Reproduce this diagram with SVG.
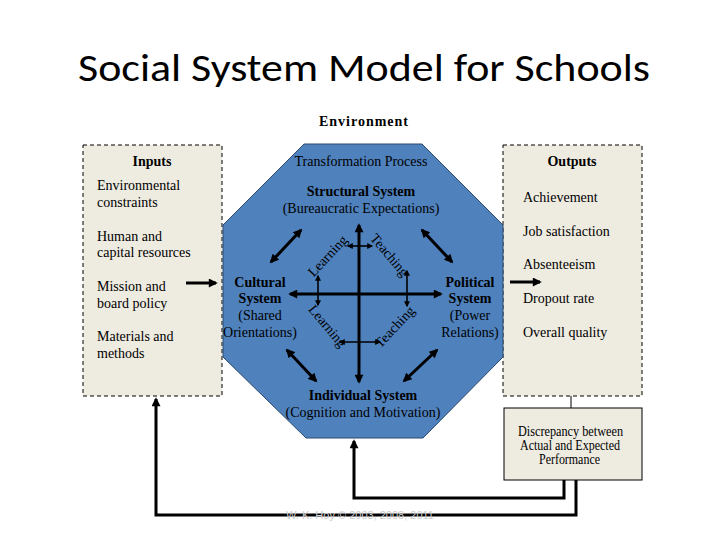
<svg xmlns="http://www.w3.org/2000/svg" width="720" height="540" viewBox="0 0 720 540">
<style>
.t{font-family:"Liberation Serif","Times New Roman",serif;font-size:14px;fill:#000}
.b{font-weight:bold}
.c{text-anchor:middle}
.box{fill:#EEEBE1;stroke:#000;stroke-width:1;stroke-dasharray:4,3}
.sbox{fill:#EEEBE1;stroke:#000;stroke-width:1}
.thick{stroke:#000;stroke-width:3;fill:none}
.thin{stroke:#000;stroke-width:1.6;fill:none}
</style>
<defs>
<marker id="ah" viewBox="0 0 10 10" markerUnits="userSpaceOnUse" markerWidth="11" markerHeight="9" refX="8" refY="5" orient="auto-start-reverse"><path d="M0,0 L10,5 L0,10 z" fill="#000"/></marker>
<marker id="ahs" viewBox="0 0 10 10" markerUnits="userSpaceOnUse" markerWidth="7" markerHeight="6" refX="8" refY="5" orient="auto-start-reverse"><path d="M0,0 L10,5 L0,10 z" fill="#000"/></marker>
</defs>
<rect width="720" height="540" fill="#fff"/>
<text x="364" y="81" font-family="Carlito,'Open Sans','Liberation Sans',sans-serif" font-size="38" text-anchor="middle" textLength="572" lengthAdjust="spacingAndGlyphs">Social System Model for Schools</text>
<text class="t b" x="319" y="126" font-size="14" textLength="89">Environment</text>

<g id="inputs">
<rect class="box" x="83" y="145" width="139" height="251"/>
<text class="t b c" x="152" y="166">Inputs</text>
<text class="t" x="97" y="190">Environmental</text>
<text class="t" x="97" y="207">constraints</text>
<text class="t" x="97" y="241">Human and</text>
<text class="t" x="97" y="257">capital resources</text>
<text class="t" x="97" y="291">Mission and</text>
<text class="t" x="97" y="308">board policy</text>
<text class="t" x="97" y="341">Materials and</text>
<text class="t" x="97" y="358">methods</text>
</g>

<g id="outputs">
<rect class="box" x="503" y="145" width="139" height="251"/>
<text class="t b c" x="572" y="166">Outputs</text>
<text class="t" x="523" y="202">Achievement</text>
<text class="t" x="523" y="236">Job satisfaction</text>
<text class="t" x="523" y="269">Absenteeism</text>
<text class="t" x="523" y="303">Dropout rate</text>
<text class="t" x="523" y="337">Overall quality</text>
</g>

<g id="transformation">
<polygon points="304,144 422,144 503,225 503,357 423,438 306,438 223,357 223,225" fill="#4F81BD" stroke="#2B4A6F" stroke-width="1"/>
<text class="t c" x="361" y="166" fill="#0d1a33">Transformation Process</text>
</g>

<g id="structural">
<text class="t b c" x="361" y="196">Structural System</text>
<text class="t c" x="361" y="213">(Bureaucratic Expectations)</text>
</g>
<g id="cultural">
<text class="t b c" x="260" y="287">Cultural</text>
<text class="t b c" x="260" y="303">System</text>
<text class="t c" x="260" y="320">(Shared</text>
<text class="t c" x="260" y="337">Orientations)</text>
</g>
<g id="political">
<text class="t b c" x="470" y="287">Political</text>
<text class="t b c" x="470" y="303">System</text>
<text class="t c" x="470" y="320">(Power</text>
<text class="t c" x="470" y="337">Relations)</text>
</g>
<g id="individual">
<text class="t b c" x="363" y="400">Individual System</text>
<text class="t c" x="363" y="417">(Cognition and Motivation)</text>
</g>

<g id="discrepancy">
<rect class="sbox" x="504" y="408" width="138" height="72"/>
<text class="t" x="518" y="436" font-size="11" textLength="105" lengthAdjust="spacingAndGlyphs">Discrepancy between</text>
<text class="t" x="520" y="450" font-size="11" textLength="100" lengthAdjust="spacingAndGlyphs">Actual and Expected</text>
<text class="t" x="539" y="464" font-size="11" textLength="61" lengthAdjust="spacingAndGlyphs">Performance</text>
</g>

<g id="labels">
<text class="t c" font-size="13" transform="translate(331,259) rotate(-47)">Learning</text>
<text class="t c" font-size="13" transform="translate(386,258) rotate(50)">Teaching</text>
<text class="t c" font-size="13" transform="translate(324,329) rotate(50)">Learning</text>
<text class="t c" font-size="13" transform="translate(398,330) rotate(-47)">Teaching</text>
</g>

<g id="connectors">
<line class="thick" x1="186" y1="283" x2="216" y2="283" marker-end="url(#ah)"/>
<line class="thick" x1="510" y1="282" x2="540" y2="282" marker-end="url(#ah)"/>
<line class="thick" x1="290" y1="294" x2="441" y2="294" marker-start="url(#ah)" marker-end="url(#ah)"/>
<line class="thick" x1="359" y1="225" x2="359" y2="382" marker-start="url(#ah)" marker-end="url(#ah)"/>
<line class="thick" x1="301" y1="230" x2="271" y2="262" marker-start="url(#ah)" marker-end="url(#ah)"/>
<line class="thick" x1="422" y1="230" x2="452" y2="262" marker-start="url(#ah)" marker-end="url(#ah)"/>
<line class="thick" x1="287" y1="350" x2="316" y2="381" marker-start="url(#ah)" marker-end="url(#ah)"/>
<line class="thick" x1="437" y1="350" x2="404" y2="381" marker-start="url(#ah)" marker-end="url(#ah)"/>
<line class="thin" x1="348" y1="246" x2="372" y2="246" marker-start="url(#ahs)" marker-end="url(#ahs)"/>
<line class="thin" x1="340" y1="342" x2="380" y2="342" marker-start="url(#ahs)" marker-end="url(#ahs)"/>
<line class="thin" x1="318" y1="276" x2="318" y2="305" marker-start="url(#ahs)" marker-end="url(#ahs)"/>
<line class="thin" x1="407" y1="271" x2="407" y2="306" marker-start="url(#ahs)" marker-end="url(#ahs)"/>
<line stroke="#000" stroke-width="1" x1="571" y1="396" x2="571" y2="408"/>
<polyline class="thick" points="564,480 564,498 354,498 354,441" marker-end="url(#ah)"/>
<polyline class="thick" points="576,480 576,515 156,515 156,399" marker-end="url(#ah)"/>
</g>
<text x="360" y="519" font-family="'Liberation Sans',sans-serif" font-size="11" fill="#cccccc" text-anchor="middle">W. K. Hoy © 2003, 2008, 2011</text>
</svg>
